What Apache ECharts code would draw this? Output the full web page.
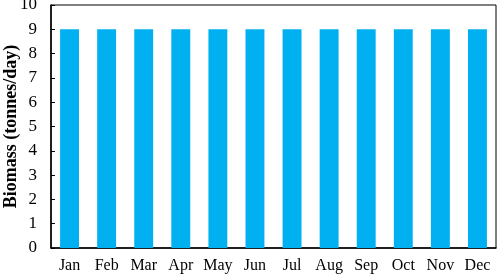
<!DOCTYPE html>
<html><head><meta charset="utf-8">
<script src="https://cdn.jsdelivr.net/npm/echarts@6/dist/echarts.min.js"></script>
<style>html,body{margin:0;padding:0;background:#fff}#c{width:498px;height:276px}</style>
</head><body><div id="c"></div>
<script>
const categories = ['Jan','Feb','Mar','Apr','May','Jun','Jul','Aug','Sep','Oct','Nov','Dec'];
const biomass = [9,9,9,9,9,9,9,9,9,9,9,9];
const yTicks = [0,1,2,3,4,5,6,7,8,9,10];
const font = '"Liberation Serif","Times New Roman",serif';
const chart = echarts.init(document.getElementById('c'));
chart.setOption({
  animation:false,
  grid:{left:51,right:2,top:5,bottom:28,show:true,borderColor:'#000',borderWidth:1,containLabel:false,outerBoundsMode:'none'},
  xAxis:{type:'category',data:categories,
    axisLine:{lineStyle:{color:'#000',width:1.5}},
    axisTick:{inside:true,alignWithLabel:true,length:4,lineStyle:{color:'#000'}},
    axisLabel:{color:'#000',fontFamily:font,fontSize:16,margin:10,interval:0}},
  yAxis:{type:'value',min:yTicks[0],max:yTicks[yTicks.length-1],interval:1,
    name:'Biomass (tonnes/day)',nameLocation:'middle',nameGap:31,nameMoveOverlap:false,
    nameTextStyle:{color:'#000',fontFamily:font,fontSize:18,fontWeight:'bold'},
    axisLine:{show:true,lineStyle:{color:'#000',width:1.5}},
    axisTick:{show:true,inside:true,length:4,lineStyle:{color:'#000'}},
    splitLine:{show:false},
    axisLabel:{color:'#000',fontFamily:font,fontSize:17,margin:14}},
  series:[{type:'bar',data:biomass,barWidth:'51%',itemStyle:{color:'#00B0F0'}}]
});
</script></body></html>
